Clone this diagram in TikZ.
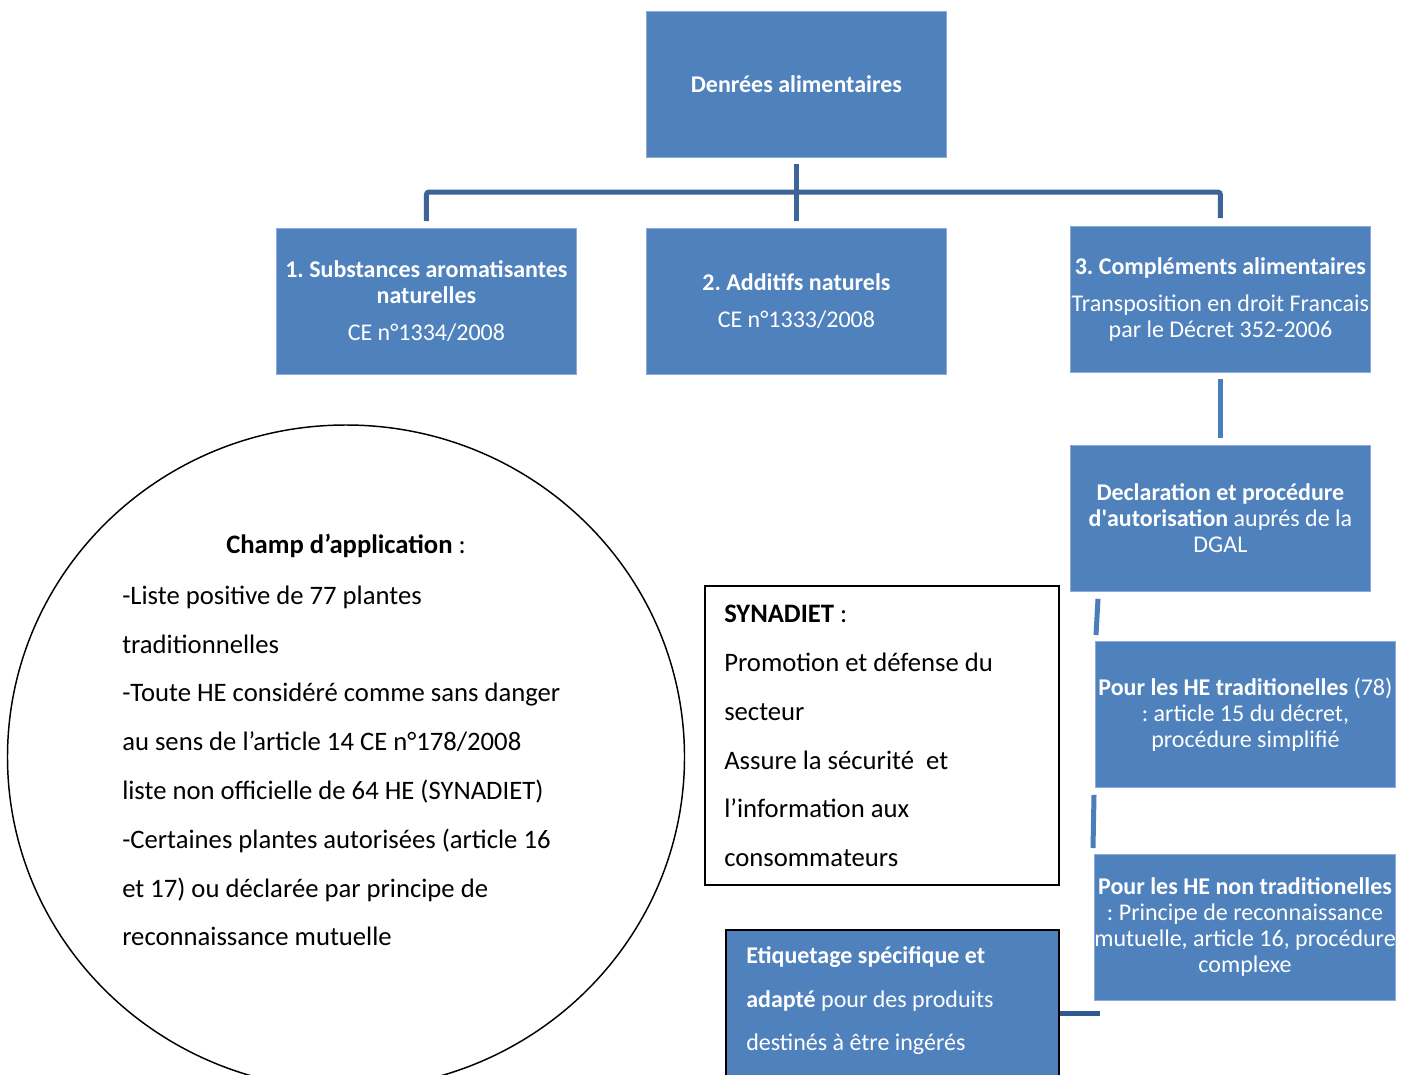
\documentclass[tikz,border=0pt]{standalone}
\usepackage{fontspec}
\setmainfont{Carlito}
\frenchspacing
\usetikzlibrary{calc,shapes.geometric}
\definecolor{boxblue}{HTML}{4F81BD}
\definecolor{treeblue}{HTML}{3C6496}
\definecolor{linkblue}{HTML}{4A7EBB}
\definecolor{darkblue}{HTML}{2F5A8F}
\definecolor{edgeblue}{HTML}{8EAADB}
\begin{document}
\begin{tikzpicture}[x=0.75pt,y=-0.75pt,
  bluebox/.style={fill=boxblue, draw=edgeblue, line width=0.6pt, anchor=north west,
    minimum width=225pt, minimum height=109.5pt, text=white, align=center, inner sep=0pt,
    font=\fontsize{18}{19.5}\selectfont},
  tree/.style={draw=treeblue, line width=3.75pt, rounded corners=2pt},
  link/.style={draw=linkblue, line width=3.75pt},
  bigtext/.style={align=left, inner sep=0pt, font=\fontsize{20}{36.6}\selectfont},
]
\clip (0,0) rectangle (1408,1074);
\useasboundingbox (0,0) rectangle (1408,1074);
\fill[white] (0,0) rectangle (1408,1074);

% main tree
\node[bluebox] (top) at (646,11) {\textbf{Denrées alimentaires}};
\node[bluebox] (b1) at (276,228) {\textbf{1. Substances aromatisantes}\\\textbf{naturelles}\\[8pt]CE n°1334/2008};
\node[bluebox] (b2) at (646,228) {\textbf{2. Additifs naturels}\\[8pt]CE n°1333/2008};
\node[bluebox] (b3) at (1070,226) {\textbf{3. Compléments alimentaires}\\[8pt]Transposition en droit Francais\\par le Décret 352-2006};

\coordinate (hub) at (796,192);
\draw[tree] ($(top.south)+(0,6)$) -- ($(b2.north)+(0,-7)$);
\draw[tree] ($(b1.north)+(0,-7)$) |- (hub) -| ($(b3.north)+(0,-8)$);

% supplements branch
\node[bluebox] (decl) at (1070,445) {\textbf{Declaration et procédure}\\\textbf{d\textquotesingle autorisation} auprés de la\\DGAL};
\node[bluebox] (hetrad) at (1095,641) {\textbf{Pour les HE traditionelles} (78)\\: article 15 du décret,\\procédure simplifié};
\node[bluebox] (henon) at (1094,854) {\textbf{Pour les HE non traditionelles}\\: Principe de reconnaissance\\mutuelle, article 16, procédure\\complexe};

\draw[link] ($(b3.south)+(0,6)$) -- ($(decl.north)+(0,-7)$);
\draw[link] ($(decl.south west)+(28,7)$) -- ($(hetrad.north west)+(1,-6)$);
\draw[link] ($(hetrad.south west)+(-1,7)$) -- ($(henon.north west)+(-1,-6)$);

% labelling box
\node[fill=boxblue, draw=black, line width=1.5pt, anchor=north west, minimum width=249.75pt,
      minimum height=127.5pt, inner sep=0pt] (etiq) at (725,929) {};
\node[anchor=west, align=left, inner sep=0pt, text=white, font=\fontsize{18}{32.6}\selectfont]
  (etiqtxt) at (746,1001) {\textbf{Etiquetage spécifique et}\\\textbf{adapté} pour des produits\\destinés à être ingérés};
\coordinate (hx) at ($(henon.south west)+(6,13)$);
\draw[draw=darkblue, line width=3.75pt] (hx) -- (hx -| etiq.east);

% SYNADIET box
\node[draw=black, line width=1.2pt, anchor=north west, minimum width=265.5pt,
      minimum height=224.25pt, inner sep=0pt] (syn) at (704,585) {};
\node[bigtext, anchor=west] (syntxt) at (724,736)
  {\textbf{SYNADIET} :\\Promotion et défense du\\secteur\\Assure la sécurité\ \ et\\l’information aux\\consommateurs};

% scope circle
\node[draw=black, line width=1.1pt, ellipse, minimum width=507.75pt, minimum height=498pt,
      inner sep=0pt] (scope) at (346,757) {};
\node[inner sep=0pt, font=\fontsize{20}{24}\selectfont] (scopetitle) at (346,546)
  {\textbf{Champ d’application} :};
\node[bigtext, anchor=west] (scopetxt) at (122,766)
  {-Liste positive de 77 plantes\\traditionnelles\\-Toute HE considéré comme sans danger\\au sens de l’article 14 CE n°178/2008\\liste non officielle de 64 HE (SYNADIET)\\-Certaines plantes autorisées (article 16\\et 17) ou déclarée par principe de\\reconnaissance mutuelle};
\end{tikzpicture}
\end{document}
